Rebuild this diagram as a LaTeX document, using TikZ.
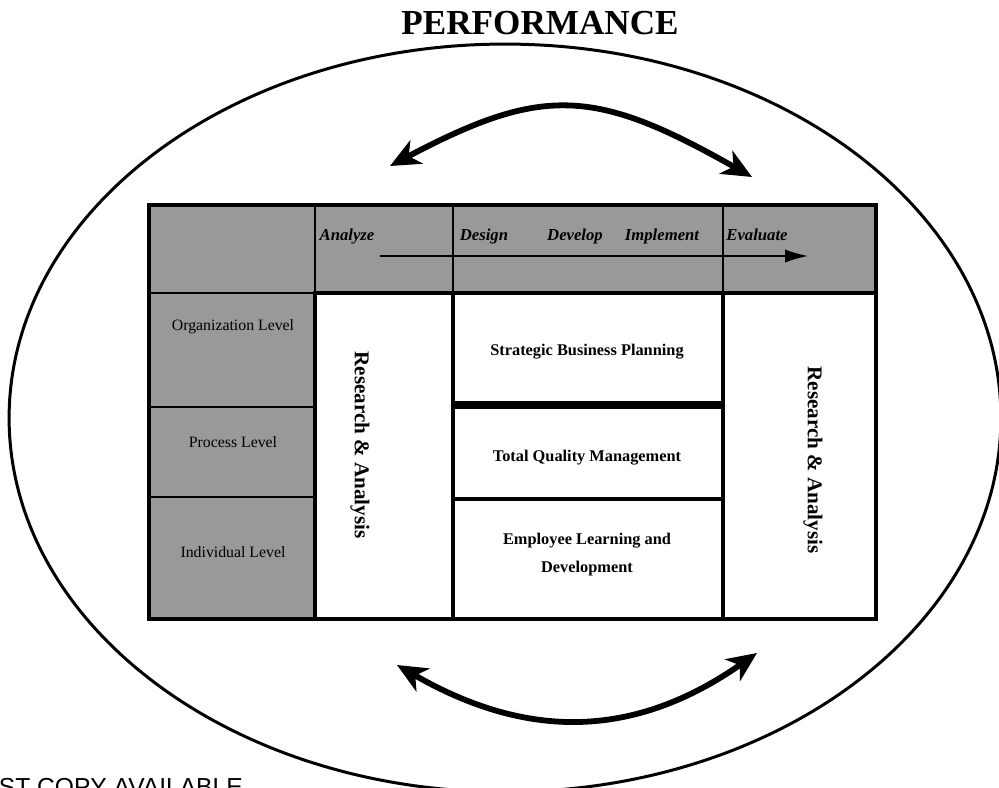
\documentclass[tikz,border=0pt]{standalone}
\usepackage{fontspec}
\setmainfont{Liberation Serif}
\newfontfamily\stampfont{Liberation Sans}
\usetikzlibrary{arrows.meta,fit}
\begin{document}
\begin{tikzpicture}[x=0.02cm,y=-0.02cm,
  shaded/.style={draw=black,fill=black!40,line width=1.4pt,inner sep=0pt,outer sep=0pt},
  plain/.style={draw=black,fill=white,line width=2pt,inner sep=0pt,outer sep=0pt},
  heavy/.style={draw=black,fill=white,line width=2.6pt,inner sep=0pt,outer sep=0pt},
  frame/.style={draw=black,line width=1.9pt,inner sep=0pt,outer sep=0pt},
  phase/.style={font=\bfseries\itshape\fontsize{9.5}{11}\selectfont,anchor=base},
  level/.style={font=\fontsize{9}{11}\selectfont},
  program/.style={font=\bfseries\fontsize{9.3}{16}\selectfont,align=center},
  vlabel/.style={font=\bfseries\fontsize{12}{14}\selectfont,rotate=-90},
  bigtip/.tip={Stealth[length=17pt,width=15pt,inset=5pt]},
  bigarrow/.style={line width=3.3pt,bigtip-bigtip},
]
\useasboundingbox (0,0) rectangle (999,787);

% surrounding performance ellipse
\draw[line width=1.7pt] (505,418) ellipse [x radius=9.92cm, y radius=7.48cm];
\node[font=\bfseries\fontsize{20}{24}\selectfont,anchor=base] (title) at (540,35) {PERFORMANCE};

% header row
\node[shaded,fit={(149,205)(315,293)}] (corner) {};
\node[shaded,fit={(315,205)(453,293)}] (hA) {};
\node[shaded,fit={(453,205)(723,293)}] (hB) {};
\node[shaded,fit={(723,205)(876,293)}] (hC) {};

% level column
\node[shaded,fit={(149,293)(315,407)}] (org) {};
\node[shaded,fit={(149,407)(315,497)}] (proc) {};
\node[shaded,fit={(149,497)(315,619)}] (ind) {};

% research columns
\node[plain,fit={(315,293)(453,619)}] (raL) {};
\node[plain,fit={(723,293)(876,619)}] (raR) {};

% program boxes
\node[heavy,fit={(453,293)(723,405)}] (sbp) {};
\node[heavy,fit={(453,405)(723,499)}] (tqm) {};
\node[heavy,fit={(453,499)(723,619)}] (eld) {};
\draw[line width=4.5pt] (sbp.south west) -- (sbp.south east);

% outer frame
\node[frame,fit={(149,205)(876,619)}] (table) {};

% phase labels and flow arrow
\node[phase] (pA) at (347,240) {Analyze};
\node[phase] (pD) at (484,240) {Design};
\node[phase] (pV) at (575,240) {Develop};
\node[phase] (pI) at (662,240) {Implement};
\node[phase] (pE) at (757,240) {Evaluate};
\coordinate (flowstart) at (380,256);
\coordinate (flowend) at (808,256);
\draw[line width=1pt,-{Latex[length=13pt,width=7.5pt]}] (flowstart) -- (flowend);

% level labels
\node[level] at (233,327) {Organization Level};
\node[level] at (233,442) {Process Level};
\node[level] at (233,552) {Individual Level};

% research labels
\node[vlabel] at (360,445) {Research \& Analysis};
\node[vlabel] at (813,460) {Research \& Analysis};

% program labels
\node[program] at (587,352) {Strategic Business Planning};
\node[program] at (587,458) {Total Quality Management};
\node[program] at (587,555) {Employee Learning and\\Development};

% cycle arrows
\coordinate (topL) at (390,166);
\coordinate (topR) at (752,177);
\draw[bigarrow] (topL) .. controls (543,85) and (595,88) .. (topR);
\coordinate (botL) at (397,665);
\coordinate (botR) at (757,653);
\draw[bigarrow] (botL) .. controls (527,740) and (634,739) .. (botR);

% stamp
\node[font=\stampfont\fontsize{14}{16}\selectfont,anchor=base east,inner sep=0pt] (stamp) at (243,795) {BEST COPY AVAILABLE};
\end{tikzpicture}
\end{document}
